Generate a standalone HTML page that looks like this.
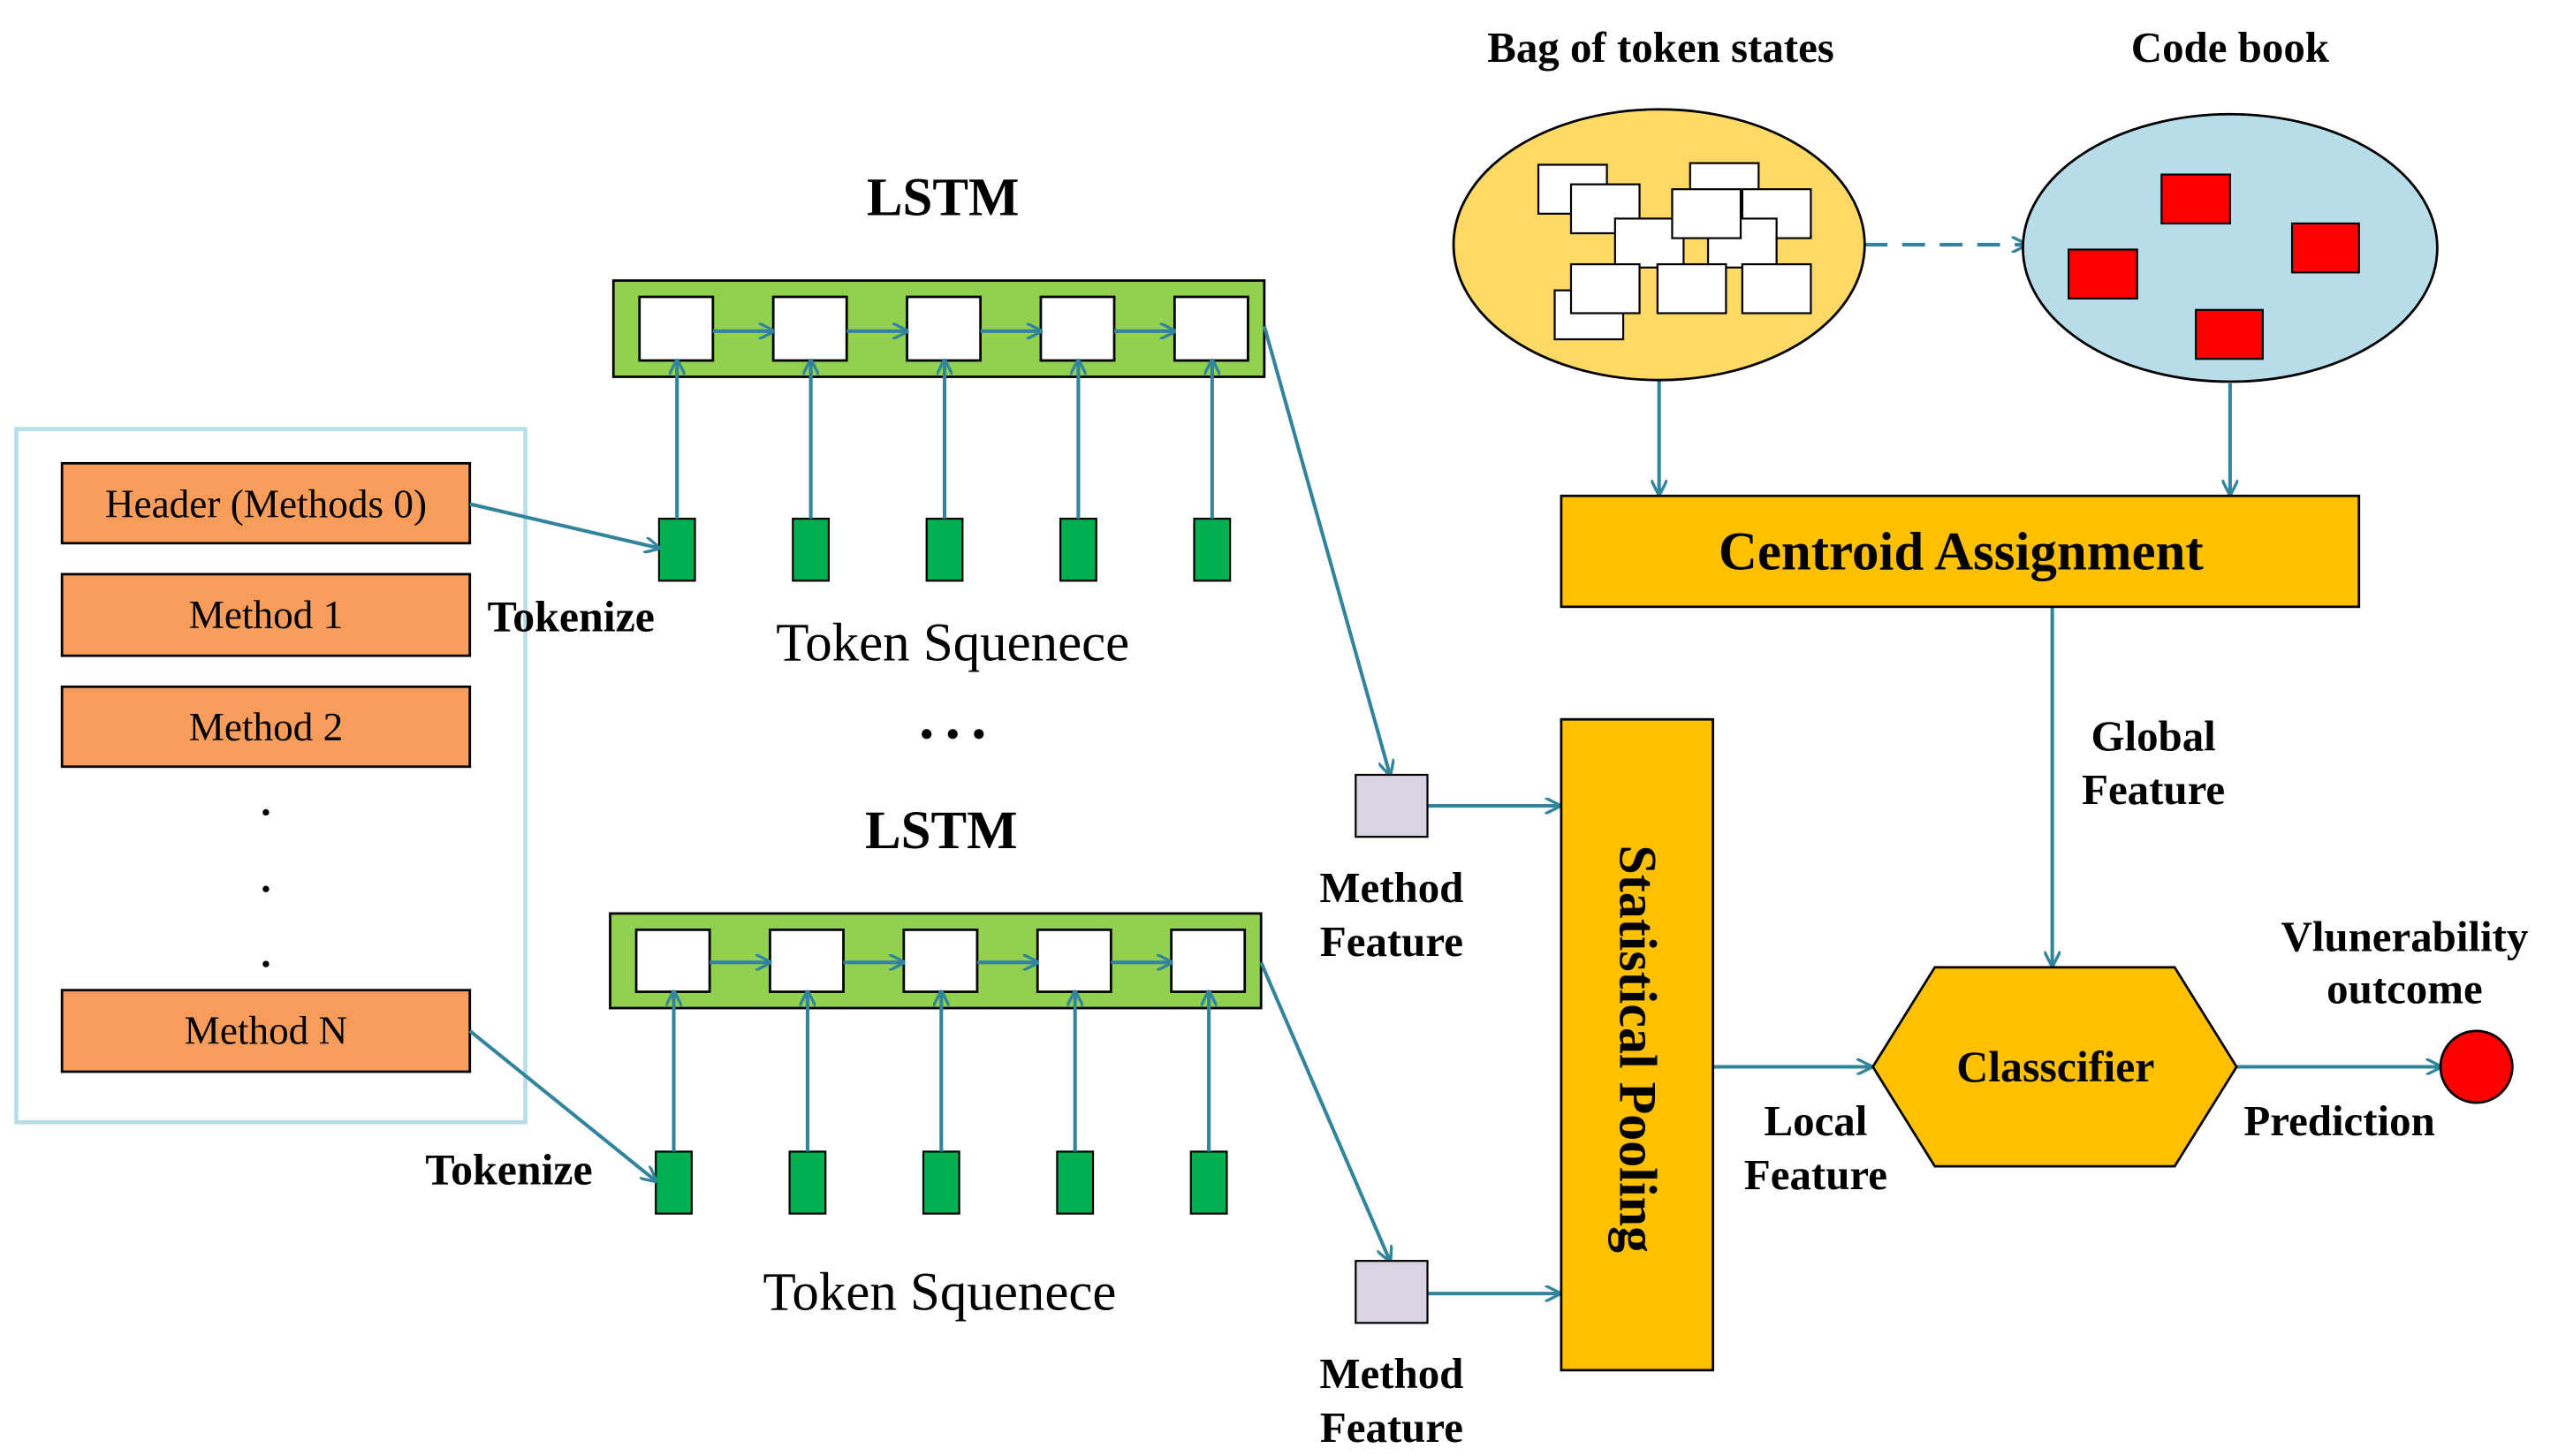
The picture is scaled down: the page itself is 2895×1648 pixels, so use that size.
<!DOCTYPE html>
<html><head><meta charset="utf-8"><style>
html,body{margin:0;padding:0;background:#fff;}
svg{display:block;}
text{font-family:"Liberation Serif",serif;fill:#000;}
.b{font-weight:bold;}
</style></head><body>
<svg width="2895" height="1648" viewBox="0 0 1568 892.6" preserveAspectRatio="none" xmlns="http://www.w3.org/2000/svg">
<defs>
<marker id="a" markerWidth="10" markerHeight="10" refX="9" refY="5" orient="auto" markerUnits="userSpaceOnUse">
<path d="M0,0 L10,5 L0,10" fill="none" stroke="#31849b" stroke-width="1.8"/></marker>
</defs>
<rect x="10" y="263" width="312" height="425" fill="none" stroke="#b7dde8" stroke-width="2.5"/>
<g fill="#f79d5c" stroke="#000" stroke-width="1.5">
<rect x="38" y="284" width="250" height="49"/>
<rect x="38" y="352" width="250" height="50"/>
<rect x="38" y="421" width="250" height="49"/>
<rect x="38" y="607" width="250" height="50"/>
</g>
<g font-size="24.5" text-anchor="middle">
<text x="163" y="317">Header (Methods 0)</text>
<text x="163" y="385">Method 1</text>
<text x="163" y="454">Method 2</text>
<text x="163" y="640">Method N</text>
</g>
<g fill="#000"><circle cx="163" cy="498" r="2"/><circle cx="163" cy="545" r="2"/><circle cx="163" cy="591" r="2"/></g>

<text x="578" y="132" font-size="33" text-anchor="middle" class="b">LSTM</text>
<rect x="376" y="172" width="399" height="59" fill="#92d050" stroke="#000" stroke-width="1.5"/>
<g fill="#fff" stroke="#000" stroke-width="1.5">
<rect x="392" y="182" width="45" height="39"/><rect x="474" y="182" width="45" height="39"/><rect x="556" y="182" width="45" height="39"/><rect x="638" y="182" width="45" height="39"/><rect x="720" y="182" width="45" height="39"/>
</g>
<g fill="#00b050" stroke="#000" stroke-width="1.2">
<rect x="404" y="318" width="22" height="38"/><rect x="486" y="318" width="22" height="38"/><rect x="568" y="318" width="22" height="38"/><rect x="650" y="318" width="22" height="38"/><rect x="732" y="318" width="22" height="38"/>
</g>
<g stroke="#31849b" stroke-width="2.2" fill="none" marker-end="url(#a)">
<line x1="437" y1="203" x2="474" y2="203"/><line x1="519" y1="203" x2="556" y2="203"/><line x1="601" y1="203" x2="638" y2="203"/><line x1="683" y1="203" x2="720" y2="203"/>
<line x1="415" y1="318" x2="415" y2="221"/><line x1="497" y1="318" x2="497" y2="221"/><line x1="579" y1="318" x2="579" y2="221"/><line x1="661" y1="318" x2="661" y2="221"/><line x1="743" y1="318" x2="743" y2="221"/>
<line x1="288" y1="309" x2="404" y2="336"/>
<line x1="775" y1="200" x2="852" y2="475"/>
</g>
<text x="350" y="387" font-size="27" text-anchor="middle" class="b">Tokenize</text>
<text x="584" y="405" font-size="33" text-anchor="middle">Token Squenece</text>
<g fill="#000"><circle cx="568" cy="450" r="3"/><circle cx="584" cy="450" r="3"/><circle cx="600" cy="450" r="3"/></g>

<text x="577" y="520" font-size="33" text-anchor="middle" class="b">LSTM</text>
<rect x="374" y="560" width="399" height="58" fill="#92d050" stroke="#000" stroke-width="1.5"/>
<g fill="#fff" stroke="#000" stroke-width="1.5">
<rect x="390" y="570" width="45" height="38"/><rect x="472" y="570" width="45" height="38"/><rect x="554" y="570" width="45" height="38"/><rect x="636" y="570" width="45" height="38"/><rect x="718" y="570" width="45" height="38"/>
</g>
<g fill="#00b050" stroke="#000" stroke-width="1.2">
<rect x="402" y="706" width="22" height="38"/><rect x="484" y="706" width="22" height="38"/><rect x="566" y="706" width="22" height="38"/><rect x="648" y="706" width="22" height="38"/><rect x="730" y="706" width="22" height="38"/>
</g>
<g stroke="#31849b" stroke-width="2.2" fill="none" marker-end="url(#a)">
<line x1="435" y1="590" x2="472" y2="590"/><line x1="517" y1="590" x2="554" y2="590"/><line x1="599" y1="590" x2="636" y2="590"/><line x1="681" y1="590" x2="718" y2="590"/>
<line x1="413" y1="706" x2="413" y2="608"/><line x1="495" y1="706" x2="495" y2="608"/><line x1="577" y1="706" x2="577" y2="608"/><line x1="659" y1="706" x2="659" y2="608"/><line x1="741" y1="706" x2="741" y2="608"/>
<line x1="288" y1="632" x2="402" y2="724"/>
<line x1="773" y1="590" x2="852" y2="773"/>
<line x1="875" y1="494" x2="956" y2="494"/>
<line x1="875" y1="793" x2="956" y2="793"/>
<line x1="1050" y1="654" x2="1147" y2="654"/>
<line x1="1371" y1="654" x2="1496" y2="654"/>
<line x1="1258" y1="372" x2="1258" y2="592"/>
<line x1="1017" y1="233" x2="1017" y2="303"/>
<line x1="1367" y1="235" x2="1367" y2="303"/>
<line x1="1143" y1="150" x2="1242" y2="150" stroke-dasharray="14,9"/>
</g>
<text x="312" y="726" font-size="27" text-anchor="middle" class="b">Tokenize</text>
<text x="576" y="803" font-size="33" text-anchor="middle">Token Squenece</text>

<rect x="831" y="475" width="44" height="38" fill="#d9d4e3" stroke="#000" stroke-width="1.2"/>
<rect x="831" y="773" width="44" height="38" fill="#d9d4e3" stroke="#000" stroke-width="1.2"/>
<g font-size="26.5" text-anchor="middle" class="b">
<text x="853" y="553">Method</text><text x="853" y="586">Feature</text>
<text x="853" y="851">Method</text><text x="853" y="884">Feature</text>
<text x="1320" y="460">Global</text><text x="1320" y="493">Feature</text>
<text x="1113" y="696">Local</text><text x="1113" y="729">Feature</text>
<text x="1434" y="696">Prediction</text>
<text x="1474" y="583">Vlunerability</text><text x="1474" y="615">outcome</text>
<text x="1018" y="38">Bag of token states</text>
<text x="1367" y="38">Code book</text>
</g>

<rect x="957" y="441" width="93" height="399" fill="#ffc000" stroke="#000" stroke-width="1.5"/>
<text transform="translate(993,643) rotate(90)" font-size="32.5" text-anchor="middle" class="b">Statistical Pooling</text>

<rect x="957" y="304" width="489" height="68" fill="#ffc000" stroke="#000" stroke-width="1.5"/>
<text x="1202" y="349" font-size="33" text-anchor="middle" class="b">Centroid Assignment</text>

<ellipse cx="1017" cy="150" rx="126" ry="83" fill="#ffd966" stroke="#000" stroke-width="1.5"/>
<ellipse cx="1367" cy="152" rx="127" ry="82" fill="#b7dde8" stroke="#000" stroke-width="1.5"/>
<g fill="#fff" stroke="#000" stroke-width="1.2">
<rect x="943" y="101" width="42" height="30"/><rect x="963" y="113" width="42" height="30"/>
<rect x="1036" y="100" width="42" height="30"/><rect x="1068" y="116" width="42" height="30"/>
<rect x="1047" y="134" width="42" height="30"/><rect x="990" y="134" width="42" height="30"/>
<rect x="1025" y="116" width="42" height="30"/>
<rect x="953" y="178" width="42" height="30"/><rect x="963" y="162" width="42" height="30"/>
<rect x="1016" y="162" width="42" height="30"/><rect x="1068" y="162" width="42" height="30"/>
</g>
<g fill="#f00" stroke="#000" stroke-width="1.2">
<rect x="1325" y="107" width="42" height="30"/><rect x="1268" y="153" width="42" height="30"/>
<rect x="1405" y="137" width="41" height="30"/><rect x="1346" y="190" width="41" height="30"/>
</g>

<polygon points="1148,654 1186,593 1333,593 1371,654 1333,715 1186,715" fill="#ffc000" stroke="#000" stroke-width="1.5"/>
<text x="1260" y="663" font-size="27" text-anchor="middle" class="b">Classcifier</text>
<circle cx="1518" cy="654" r="22" fill="#f00" stroke="#000" stroke-width="1.5"/>
</svg>
</body></html>
